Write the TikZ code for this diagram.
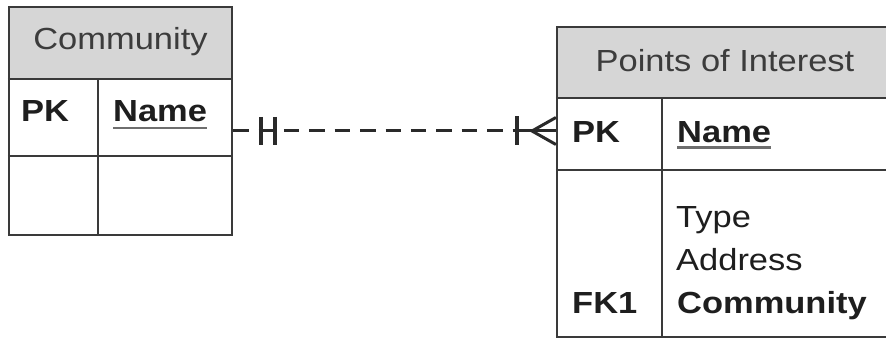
\documentclass[tikz,border=0pt]{standalone}
\usepackage{fontspec}
\setmainfont{Liberation Sans}[FakeStretch=1.13]
\definecolor{hdrfill}{HTML}{D6D6D6}
\definecolor{bordc}{HTML}{3A3A3A}
\definecolor{hdrtxt}{HTML}{3C3C3C}
\definecolor{bodytxt}{HTML}{1E1E1E}
\definecolor{ulc}{HTML}{6E6E6E}
\definecolor{relc}{HTML}{2A2A2A}
\begin{document}
\begin{tikzpicture}[x=1pt,y=-1pt,
  tbl/.style={draw=bordc, line width=2.2pt, rectangle, inner sep=0pt},
  hdr/.style={fill=hdrfill},
  grid/.style={draw=bordc, line width=2.2pt},
  hdrtext/.style={anchor=base, inner sep=0pt, text=hdrtxt, font=\fontsize{30.5}{36}\selectfont},
  fld/.style={anchor=base west, inner sep=0pt, text=bodytxt, font=\fontsize{30.5}{36}\selectfont},
  key/.style={anchor=base west, inner sep=0pt, text=bodytxt, font=\fontsize{30.5}{36}\selectfont\bfseries},
  uline/.style={draw=ulc, line width=2.8pt},
  rel/.style={draw=relc, line width=3pt},
  bar/.style={draw=relc, line width=3.4pt},
]
\useasboundingbox (0,0) rectangle (886,339);
\clip (0,0) rectangle (886,339);
\fill[white] (0,0) rectangle (886,339);

% header fills
\fill[hdr] (9,7) rectangle (232,79);
\fill[hdr] (557,27) rectangle (900,98);

% table outlines
\node[tbl, minimum width=223pt, minimum height=228pt] (comm) at (120.5,121) {};
\node[tbl, minimum width=343pt, minimum height=310pt] (poi) at (728.5,182) {};

% Community grid
\draw[grid] (comm.west |- 0,79) -- (comm.east |- 0,79);
\draw[grid] (comm.west |- 0,156) -- (comm.east |- 0,156);
\draw[grid] (98,79) -- (98,235);

% Points of Interest grid
\draw[grid] (poi.west |- 0,98) -- (poi.east |- 0,98);
\draw[grid] (poi.west |- 0,170) -- (poi.east |- 0,170);
\draw[grid] (662,98) -- (662,337);

% texts: Community
\node[hdrtext] (ch) at (120.5,50) {Community};
\node[key] (cpk) at (21,122) {PK};
\node[key] (cnm) at (113,122) {Name};
\draw[uline] ([yshift=-6pt]cnm.base west) -- ([yshift=-6pt]cnm.base east);

% texts: Points of Interest
\node[hdrtext] (ph) at (725,72) {Points of Interest};
\node[key] (ppk) at (572,143) {PK};
\node[key] (pnm) at (677,143) {Name};
\draw[uline] ([yshift=-4.5pt]pnm.base west) -- ([yshift=-4.5pt]pnm.base east);
\node[fld] (pty) at (676,227) {Type};
\node[fld] (pad) at (676,270) {Address};
\node[key] (pfk) at (572,313) {FK1};
\node[key] (pco) at (677,313) {Community};

% relationship
\coordinate (link) at (400,131);
\coordinate (cs) at (comm.east |- link);
\coordinate (pe) at (poi.west |- link);
\coordinate (h1) at (261,131);
\coordinate (h2) at (275,131);
\coordinate (b3) at (517,131);
\coordinate (apex) at (532,131);
\draw[rel, dash pattern=on 15.4pt off 10pt] (cs) -- (pe);
\draw[rel] (h1) -- (h2);
\draw[bar] ([yshift=14pt]h1) -- ([yshift=-14pt]h1);
\draw[bar] ([yshift=14pt]h2) -- ([yshift=-14pt]h2);
\draw[bar] ([yshift=14.5pt]b3) -- ([yshift=-14.5pt]b3);
\draw[rel] (b3) -- (pe);
\draw[rel] ([yshift=13.5pt]pe) -- (apex) -- ([yshift=-13.5pt]pe);
\end{tikzpicture}
\end{document}
